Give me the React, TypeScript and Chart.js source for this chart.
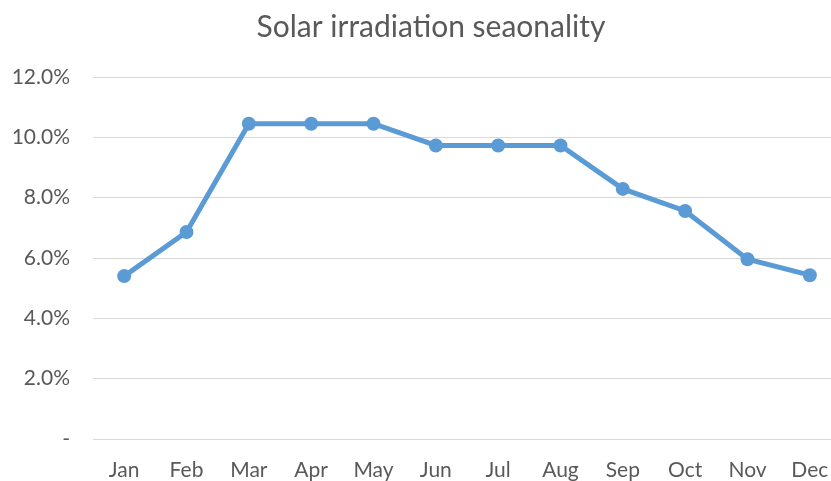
import React, { useEffect, useRef } from "react";
import { Chart, registerables } from "chart.js";

Chart.register(...registerables);

const months = ["Jan", "Feb", "Mar", "Apr", "May", "Jun", "Jul", "Aug", "Sep", "Oct", "Nov", "Dec"];
const shares = [5.4, 6.86, 10.45, 10.45, 10.45, 9.73, 9.73, 9.73, 8.29, 7.56, 5.96, 5.43];
const chartTitle = "Solar irradiation seaonality";
const yMin = 0;
const yMax = 12;
const yStep = 2;

const FONT = "Lato, Calibri, 'Open Sans', sans-serif";
const TEXT = "#595959";
const GRID = "#d9d9d9";
const BLUE = "#5B9BD5";
const TITLE_SIZE = 30;

const centeredTitle = {
  id: "centeredTitle",
  afterDraw(chart: any) {
    const t = chart.titleBlock;
    if (!t) return;
    const ctx = chart.ctx;
    ctx.save();
    ctx.fillStyle = TEXT;
    ctx.font = `normal ${TITLE_SIZE}px ${FONT}`;
    ctx.textAlign = "center";
    ctx.textBaseline = "middle";
    const lh = TITLE_SIZE * 1.2;
    ctx.fillText(chartTitle, chart.width / 2, t.top + 9 + lh / 2);
    ctx.restore();
  },
};

export default function App() {
  const ref = useRef<HTMLCanvasElement | null>(null);

  useEffect(() => {
    const canvas = ref.current;
    if (!canvas) return;
    const chart = new Chart(canvas, {
      type: "line",
      data: {
        labels: months,
        datasets: [
          {
            data: shares,
            borderColor: BLUE,
            backgroundColor: BLUE,
            borderWidth: 5,
            pointRadius: 7,
            pointBackgroundColor: BLUE,
            pointBorderColor: BLUE,
            pointBorderWidth: 0,
            tension: 0,
            fill: false,
          },
        ],
      },
      options: {
        responsive: false,
        animation: false,
        devicePixelRatio: 1,
        layout: { padding: { left: 0, right: 21, top: 0, bottom: 0 } },
        plugins: {
          legend: { display: false },
          tooltip: { enabled: false },
          title: {
            display: true,
            text: chartTitle,
            color: "rgba(0,0,0,0)",
            font: { family: FONT, size: TITLE_SIZE, weight: "normal" },
            padding: { top: 9, bottom: 32 },
          },
        },
        scales: {
          x: {
            offset: true,
            grid: { display: false, drawTicks: false },
            border: { display: false },
            ticks: {
              color: TEXT,
              font: { family: FONT, size: 21 },
              padding: 19,
              maxRotation: 0,
              autoSkip: false,
            },
            afterFit: (s: any) => {
              s.height = 42;
            },
          },
          y: {
            min: yMin,
            max: yMax,
            grid: { color: GRID, lineWidth: 1, drawTicks: false },
            border: { display: false },
            ticks: {
              stepSize: yStep,
              color: TEXT,
              font: { family: FONT, size: 21 },
              padding: 23,
              callback: (v: any) => (Number(v) === 0 ? "-" : Number(v).toFixed(1) + "%"),
            },
            afterFit: (s: any) => {
              s.width = 93;
            },
          },
        },
      },
      plugins: [centeredTitle],
    });
    return () => chart.destroy();
  }, []);

  return (
    <div
      style={{
        position: "fixed",
        left: 0,
        top: 0,
        width: 831,
        height: 481,
        overflow: "hidden",
        background: "#ffffff",
      }}
    >
      <canvas ref={ref} width={862} height={481} style={{ display: "block" }} />
    </div>
  );
}
